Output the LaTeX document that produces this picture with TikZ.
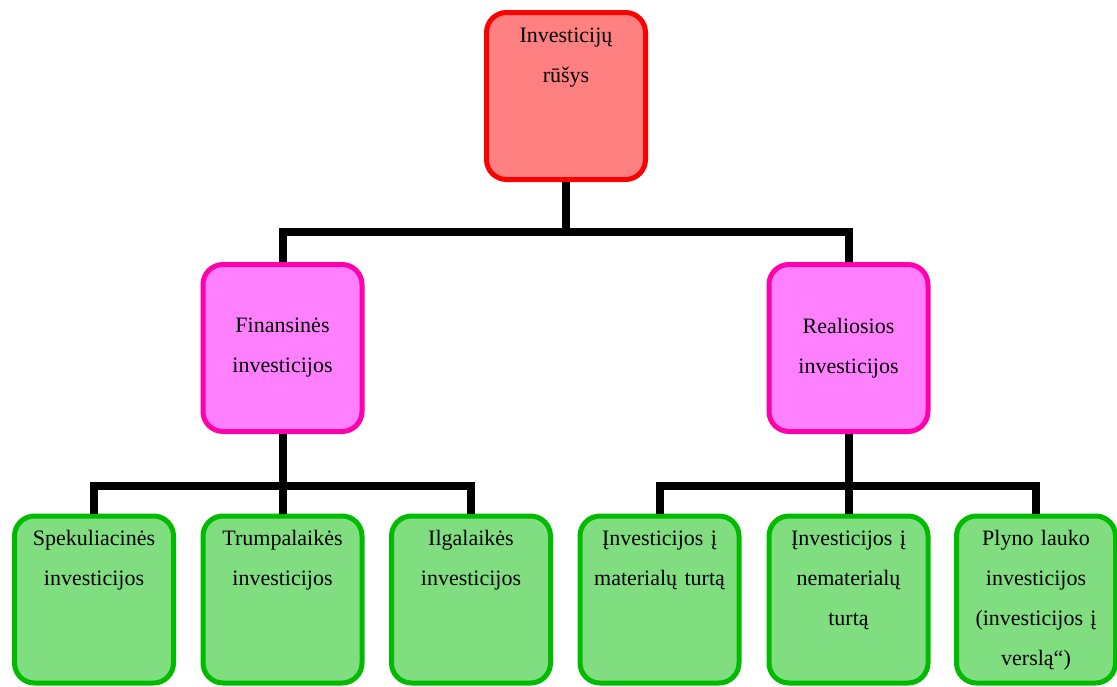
\documentclass[tikz,border=0pt]{standalone}
\usepackage{fontspec}
\setmainfont{Liberation Serif}
\definecolor{rootfill}{RGB}{255,128,128}
\definecolor{rootline}{RGB}{255,0,0}
\definecolor{kindfill}{RGB}{255,128,255}
\definecolor{kindline}{RGB}{255,0,170}
\definecolor{leaffill}{RGB}{128,222,128}
\definecolor{leafline}{RGB}{0,187,0}
\newcommand{\uptext}[1]{\parbox[c][150pt][t]{150pt}{\centering\rule{0pt}{21pt}#1}}
\tikzset{
  ibox/.style={rectangle, rounded corners=20pt, line width=5pt, minimum width=159pt,
    minimum height=167pt, inner sep=0pt, text width=150pt, align=center,
    font=\fontsize{22}{40}\selectfont},
  rootbox/.style={ibox, draw=rootline, fill=rootfill},
  kindbox/.style={ibox, draw=kindline, fill=kindfill},
  leafbox/.style={ibox, draw=leafline, fill=leaffill},
  link/.style={line width=8pt}
}
\begin{document}
\begin{tikzpicture}[x=1pt,y=-1pt]
\useasboundingbox (0,0) rectangle (1117,686);
\node (root) at (566,96) [rootbox] {\uptext{Investicijų\\rūšys}};
\node (fin) at (282.5,348) [kindbox] {Finansinės\\investicijos};
\node (real) at (848.5,348) [kindbox] {Realiosios\\investicijos};
\node (spec) at (94,599.5) [leafbox] {\uptext{Spekuliacinės\\investicijos}};
\node (short) at (282.5,599.5) [leafbox] {\uptext{Trumpalaikės\\investicijos}};
\node (long) at (471,599.5) [leafbox] {\uptext{Ilgalaikės\\investicijos}};
\node (tang) at (659.5,599.5) [leafbox] {\uptext{Įnvesticijos į\\materialų turtą}};
\node (intang) at (848.5,599.5) [leafbox] {\uptext{Įnvesticijos į\\nematerialų\\turtą}};
\node (green) at (1036,599.5) [leafbox] {\uptext{Plyno lauko\\investicijos\\(investicijos į\\verslą“)}};
% forks
\coordinate (rootfork) at (566,232);
\coordinate (finfork) at (282.5,486);
\coordinate (realfork) at (848.5,486);
\draw[link] (root.south) -- (rootfork); \draw[link] (fin.north) |- (rootfork) -| (real.north);
\draw[link] (fin.south) -- (finfork); \draw[link] (spec.north) |- (finfork) -| (long.north);
\draw[link] (finfork) -- (short.north);
\draw[link] (real.south) -- (realfork); \draw[link] (tang.north) |- (realfork) -| (green.north);
\draw[link] (realfork) -- (intang.north);
\end{tikzpicture}
\end{document}
